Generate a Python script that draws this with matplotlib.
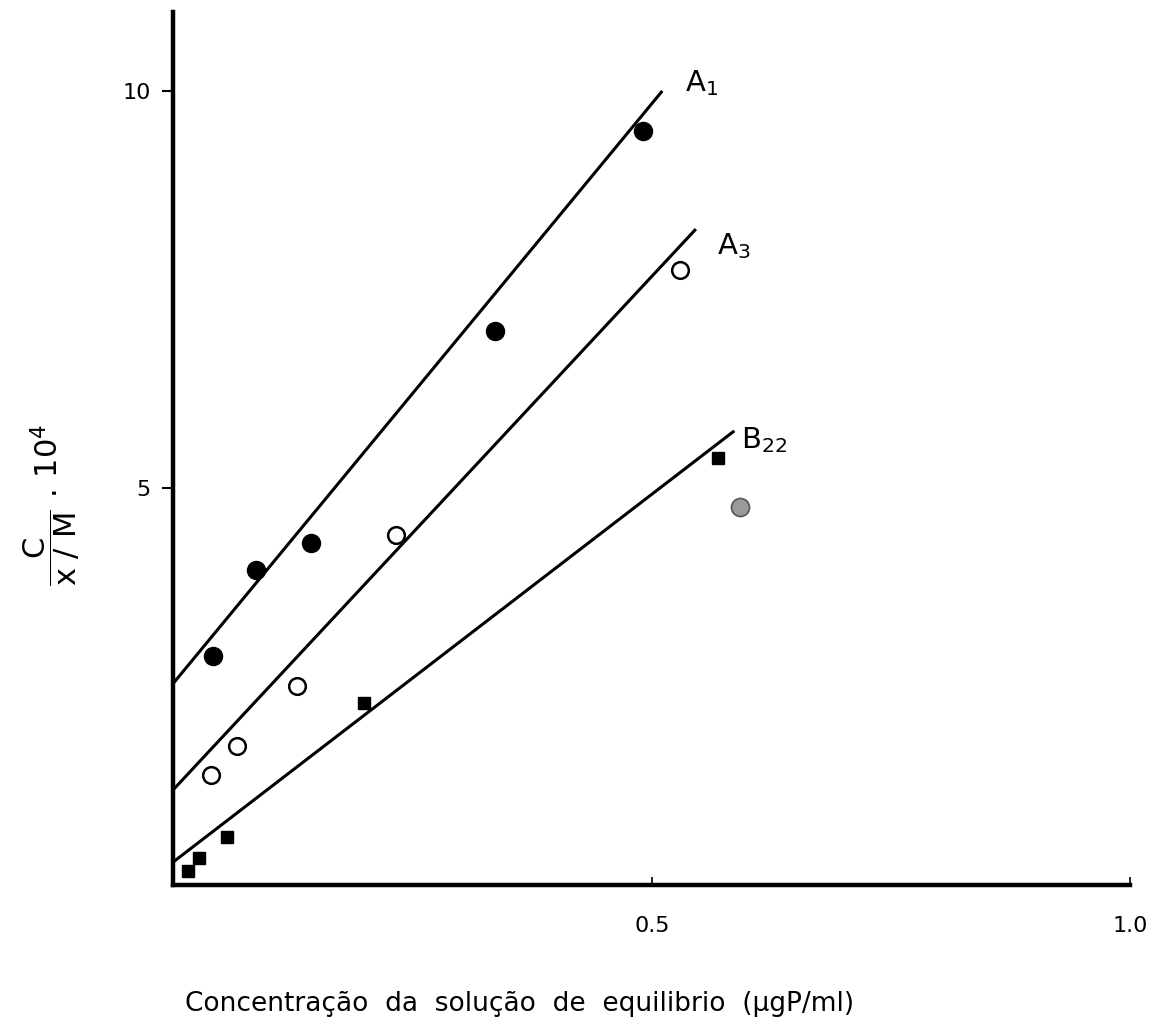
import matplotlib
matplotlib.use("Agg")
import matplotlib.pyplot as plt

a1_x = [0.042, 0.086, 0.144, 0.336, 0.491]
a1_y = [2.88, 3.97, 4.31, 6.98, 9.50]
a3_x = [0.039, 0.067, 0.129, 0.233, 0.529]
a3_y = [1.39, 1.75, 2.51, 4.41, 7.75]
b22_x = [0.015, 0.027, 0.056, 0.199, 0.569]
b22_y = [0.18, 0.34, 0.60, 2.29, 5.38]
extra_x = [0.592]
extra_y = [4.76]

# fitted lines (end points)
a1_line_x = [0.0, 0.510]
a1_line_y = [2.54, 9.99]
a3_line_x = [0.0, 0.545]
a3_line_y = [1.20, 8.25]
b22_line_x = [0.0, 0.585]
b22_line_y = [0.29, 5.71]

fig = plt.figure(figsize=(11.55, 10.30), dpi=100)
ax = fig.add_axes([0.150, 0.1408, 0.8286, 0.8476])

lw = 2.2
ax.plot(a1_line_x, a1_line_y, color="black", lw=lw)
ax.plot(a3_line_x, a3_line_y, color="black", lw=lw)
ax.plot(b22_line_x, b22_line_y, color="black", lw=lw)

ax.plot(a1_x, a1_y, "o", ms=13, color="black")
ax.plot(a3_x, a3_y, "o", ms=12, mfc="white", mec="black", mew=1.8)
ax.plot(b22_x, b22_y, "s", ms=9, color="black")
ax.plot(extra_x, extra_y, "o", ms=13, mfc="#9a9a9a", mec="#555555", mew=1.2)

ax.text(0.535, 10.0, r"A$_{\mathsf{1}}$", fontsize=21)
ax.text(0.568, 7.95, r"A$_{\mathsf{3}}$", fontsize=21)
ax.text(0.593, 5.5, r"B$_{\mathsf{22}}$", fontsize=21)

ax.set_xlim(0, 1.0)
ax.set_ylim(0, 11)
for s in ["top", "right"]:
    ax.spines[s].set_visible(False)
ax.spines["left"].set_linewidth(3.2)
ax.spines["bottom"].set_linewidth(3.2)

ax.set_yticks([5, 10])
ax.set_yticklabels(["5", "10"], fontsize=16)
ax.set_xticks([0.5, 1.0])
ax.set_xticklabels(["0.5", "1.0"], fontsize=16)
ax.tick_params(axis="y", direction="out", length=8, width=1.5, pad=8)
ax.tick_params(axis="x", direction="in", length=6, width=1.2, pad=22)

fig.text(0.045, 0.51, r"$\dfrac{\mathsf{C}}{\mathsf{x\ /\ M}}\ .\,\mathsf{10}^{\mathsf{4}}$",
         rotation=90, fontsize=22, ha="center", va="center")
fig.text(0.45, 0.025, "Concentração  da  solução  de  equilibrio  (µgP/ml)",
         fontsize=19, ha="center", va="center")

fig.savefig("out.png", dpi=100)
